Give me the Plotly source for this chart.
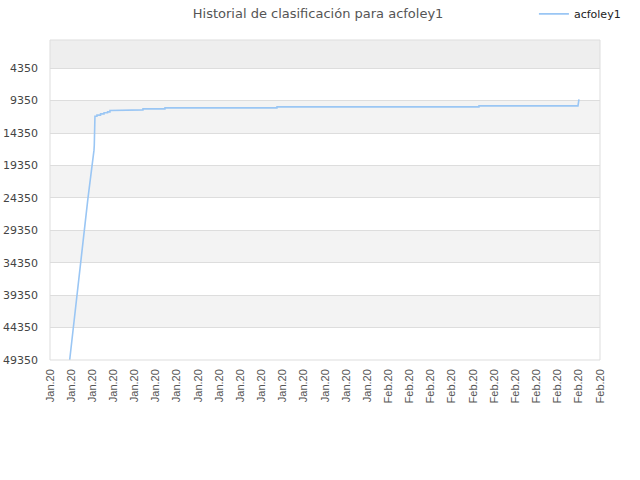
import plotly.graph_objs as go

# ranking history (lower number = better rank)
fechas = [
    "2020-01-02 20:40", "2020-01-03 04:50", "2020-01-03 14:00", "2020-01-03 22:20",
    "2020-01-04 14:10", "2020-01-05 03:50", "2020-01-05 04:30", "2020-01-05 06:00",
    "2020-01-05 10:30", "2020-01-05 10:35", "2020-01-05 18:40", "2020-01-05 18:45",
    "2020-01-06 02:35", "2020-01-06 02:40", "2020-01-06 10:30", "2020-01-06 10:35",
    "2020-01-06 16:00", "2020-01-06 16:05", "2020-01-07 19:20", "2020-01-07 19:25",
    "2020-01-09 18:55", "2020-01-09 19:00", "2020-01-11 20:50", "2020-01-11 20:55",
    "2020-01-22 11:00", "2020-01-22 11:05", "2020-02-10 13:20", "2020-02-10 13:25",
    "2020-02-19 22:00", "2020-02-20 00:15",
]
posiciones = [
    49350, 44400, 39330, 34400,
    24380, 16990, 16220, 11750,
    11750, 11590, 11590, 11390,
    11390, 11210, 11210, 11080,
    11080, 10870, 10870, 10780,
    10780, 10620, 10620, 10470,
    10470, 10310, 10310, 10160,
    10160, 9170,
]
y_ticks = [4350, 9350, 14350, 19350, 24350, 29350, 34350, 39350, 44350, 49350]
y_labels = [str(v) for v in y_ticks]

# alternating background bands
bandas = [(49350, 44350, "#ffffff"), (44350, 39350, "#f3f3f3"),
          (39350, 34350, "#ffffff"), (34350, 29350, "#f3f3f3"),
          (29350, 24350, "#ffffff"), (24350, 19350, "#f3f3f3"),
          (19350, 14350, "#ffffff"), (14350, 9350, "#f3f3f3"),
          (9350, 4350, "#ffffff"), (4350, 0, "#eeeeee")]
shapes = [dict(type="rect", xref="paper", yref="y", x0=0, x1=1, y0=a, y1=b,
               fillcolor=c, line=dict(width=0), layer="below") for a, b, c in bandas]

linea = go.Scatter(
    x=fechas,
    y=posiciones,
    mode="lines",
    name="acfoley1",
    line=dict(color="#9ac6f4", width=1.6),
)

layout = dict(
    title=dict(text="Historial de clasificación para acfoley1",
               xref="container", x=0.497, yref="container", y=0.973,
               xanchor="center", yanchor="middle",
               font=dict(family="DejaVu Sans", size=13, color="#555555")),
    width=640, height=480,
    margin=dict(l=50, r=40, t=40, b=120, autoexpand=False),
    paper_bgcolor="white",
    plot_bgcolor="white",
    font=dict(family="DejaVu Sans", size=11, color="#444444"),
    showlegend=True,
    legend=dict(orientation="h", xref="container", x=0.978, xanchor="right",
                yref="container", y=0.971, yanchor="middle",
                bgcolor="rgba(0,0,0,0)",
                font=dict(size=11, color="#222222")),
    shapes=shapes + [dict(type="rect", xref="paper", yref="paper", x0=0, x1=1, y0=0, y1=1,
                          line=dict(color="#dddddd", width=1))],
    xaxis=dict(type="date", range=["2020-01-01", "2020-02-22"],
               tick0="2020-01-01", dtick=2 * 86400000, tickformat="%b.%y",
               tickangle=-90, showgrid=False, zeroline=False, showline=False,
               ticks="", automargin=False, ticklabelstandoff=6,
               tickfont=dict(family="Liberation Sans", size=11, color="#555555")),
    yaxis=dict(range=[49350, 0], tickvals=y_ticks, ticktext=y_labels,
               showgrid=True, gridcolor="#dddddd",
               zeroline=False, showline=False, ticks="", automargin=False,
               ticklabelstandoff=11,
               tickfont=dict(size=11, color="#444444")),
)

fig = go.Figure(data=[linea], layout=layout)
# drop the default page margin so the figure sits at the window's corner
fig.write_html("out.html", config={"displayModeBar": False},
               post_script="document.body.style.margin='0px';")
